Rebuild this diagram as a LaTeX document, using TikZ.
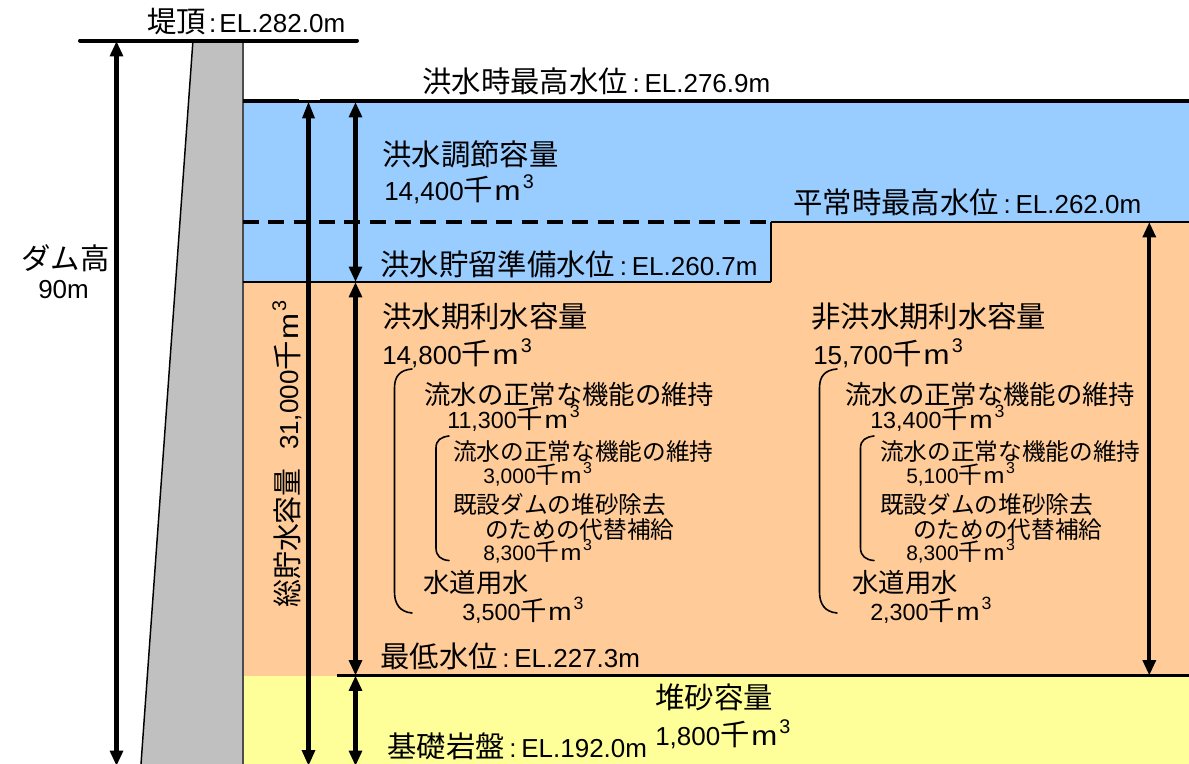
\documentclass[tikz,border=0pt]{standalone}
\usepackage{fontspec}
\setmainfont{Liberation Sans}
\newfontfamily\cjk[Scale=1.13]{Noto Sans CJK JP}
\usetikzlibrary{arrows.meta}
\newcommand\J[1]{{\cjk #1}}
\newcommand\cub{\raisebox{.46em}{\scalebox{.76}{3}}}
\newcommand\kc{\J{千}\hspace{.06em}\scalebox{1.2}[1.06]{m}\hspace{.08em}\cub}
\newcommand\cn{\hspace{.18em}:\hspace{.18em}}
\definecolor{damgray}{HTML}{C0C0C0}
\definecolor{floodblue}{HTML}{99CCFF}
\definecolor{conservorange}{HTML}{FFCC99}
\definecolor{sedyellow}{HTML}{FFFF99}
\tikzset{
  lab/.style={inner sep=0pt,anchor=base west,font=\fontsize{19.5pt}{23pt}\selectfont},
  labm/.style={lab,font=\fontsize{17.5pt}{21pt}\selectfont},
  labs/.style={lab,font=\fontsize{15.7pt}{19pt}\selectfont},
  level/.style={line width=2.5pt,line cap=butt},
  dimthin/.style={line width=3.1pt,{Triangle[length=11.5pt,width=9.5pt]}-{Triangle[length=11.5pt,width=9.5pt]}},
  dimthick/.style={line width=3.6pt,{Triangle[length=13pt,width=8.6pt]}-{Triangle[length=12pt,width=9.5pt]}},
  brace/.style={line width=1.2pt,line cap=round},
}
\begin{document}
\begin{tikzpicture}[x=0.75pt,y=-0.75pt]
\useasboundingbox (0,0) rectangle (1189,764);
\clip (0,0) rectangle (1189,764);
% regions
\fill[floodblue] (243,101) rectangle (1189,222);
\fill[floodblue] (243,222) rectangle (771,282);
\fill[conservorange] (243,282) -- (771,282) -- (771,222) -- (1189,222) -- (1189,676) -- (243,676) -- cycle;
\fill[sedyellow] (243,676) rectangle (1189,764);
% dam body
\fill[damgray] (193,40) -- (243,40) -- (243,764) -- (141,764) -- cycle;
\draw[line width=1.1pt] (193,40) -- (141,764);
\draw[line width=1.4pt,black!70] (243,40) -- (243,764);
% named points
\coordinate (crestL) at (80,40.5);
\coordinate (crestR) at (357,40.5);
\coordinate (hwlL) at (243,101);
\coordinate (hwlR) at (1189,101);
\coordinate (prepL) at (243,222);
\coordinate (prepM) at (771,222);
\coordinate (prepR) at (1189,222);
\coordinate (lowL) at (243,282);
\coordinate (lowR) at (771,282);
\coordinate (minL) at (337,675.5);
\coordinate (minR) at (1189,675.5);
\coordinate (hA) at (116.5,41);
\coordinate (hB) at (116.5,766);
\coordinate (tA) at (308.5,101);
\coordinate (tB) at (308.5,766);
\coordinate (fA) at (355.5,102);
\coordinate (fB) at (355.5,282);
\coordinate (cA) at (355.5,282);
\coordinate (cB) at (355.5,675.5);
\coordinate (sA) at (355.5,675.5);
\coordinate (sB) at (355.5,766);
\coordinate (nA) at (1149.3,222);
\coordinate (nB) at (1149.3,675.5);
% level lines
\draw[line width=3pt,line cap=round] (crestL) -- (crestR);
\draw[level,line width=2.8pt] (hwlL) -- (hwlR);
\fill[white] (299,43) rectangle (320,100.4);
\draw[level,dash pattern=on 12pt off 7pt] (prepL) -- (prepM);
\draw[level,line width=2pt] (prepM) -- (prepR);
\draw[level,line width=2.2pt] (prepM) -- (lowR);
\draw[level,line width=2.2pt] (lowL) -- (lowR);
\draw[level,line width=2pt] (minL) -- (minR);
% dimension arrows
\draw[dimthin] (hA) -- (hB);
\draw[dimthick] (tA) -- (tB);
\draw[dimthin] (fA) -- (fB);
\draw[dimthin] (cA) -- (cB);
\draw[dimthin] (sA) -- (sB);
\draw[dimthin] (nA) -- (nB);
% brackets
\draw[brace] (412,369) .. controls (400,370) and (394.5,376) .. (394.5,388) -- (394.5,592) .. controls (394.5,604) and (400,612) .. (412,613);
\draw[brace] (449,436) .. controls (441,437) and (436,440) .. (436,448) -- (436,548) .. controls (436,556) and (441,560) .. (449,560.5);
\draw[brace] (837,369) .. controls (825,370) and (819.5,376) .. (819.5,388) -- (819.5,592) .. controls (819.5,604) and (825,612) .. (837,613);
\draw[brace] (874,436) .. controls (866,437) and (860.5,440) .. (860.5,448) -- (860.5,548) .. controls (860.5,556) and (866,560) .. (874,560.5);
% labels
\node[lab] (crest) at (147,32) {\J{堤頂}\hspace{.12em}:\hspace{.12em}EL.282.0m};
\node[lab] (hwl) at (422,92) {\J{洪水時最高水位}\cn EL.276.9m};
\node[lab] (fc) at (382,165) {\J{洪水調節容量}};
\node[lab] (fcv) at (384,200) {14,400\kc};
\node[lab] (nwl) at (793,213) {\J{平常時最高水位}\cn EL.262.0m};
\node[lab] (pwl) at (380,275) {\J{洪水貯留準備水位}\cn EL.260.7m};
\node[lab] (dh) at (21,269) {\J{ダム高}};
\node[lab] (dhv) at (38,298) {90m};
\node[lab,rotate=90] (tot) at (298,608) {\scalebox{.95}[1]{\J{総貯水容量}}\hspace{.7em}31,000\kc};
\node[lab] (fp) at (382,327) {\J{洪水期利水容量}};
\node[lab] (fpv) at (382,364) {14,800\kc};
\node[lab] (np) at (811,327) {\J{非洪水期利水容量}};
\node[lab] (npv) at (813,364) {15,700\kc};
\node[labm] (a1) at (424,404) {\J{流水の正常な機能の維持}};
\node[labm] (a1v) at (447,428) {11,300\kc};
\node[labs] (a2) at (453,460) {\J{流水の正常な機能の維持}};
\node[labs] (a2v) at (483,483) {3,000\kc};
\node[labs] (a3) at (453,513) {\J{既設ダムの堆砂除去}};
\node[labs] (a4) at (485,538) {\J{のための代替補給}};
\node[labs] (a4v) at (483,560) {8,300\kc};
\node[labm] (a5) at (423,592) {\J{水道用水}};
\node[labm] (a5v) at (462,620) {3,500\kc};
\node[labm] (b1) at (845,404) {\J{流水の正常な機能の維持}};
\node[labm] (b1v) at (870,428) {13,400\kc};
\node[labs] (b2) at (880,460) {\J{流水の正常な機能の維持}};
\node[labs] (b2v) at (906,483) {5,100\kc};
\node[labs] (b3) at (880,513) {\J{既設ダムの堆砂除去}};
\node[labs] (b4) at (913,538) {\J{のための代替補給}};
\node[labs] (b4v) at (906,560) {8,300\kc};
\node[labm] (b5) at (852,592) {\J{水道用水}};
\node[labm] (b5v) at (870,620) {2,300\kc};
\node[lab] (mwl) at (380,667) {\J{最低水位}\cn EL.227.3m};
\node[lab] (sed) at (655,708) {\J{堆砂容量}};
\node[lab] (sedv) at (655,745) {1,800\kc};
\node[lab] (rock) at (387,757) {\J{基礎岩盤}\cn EL.192.0m};
\end{tikzpicture}
\end{document}
